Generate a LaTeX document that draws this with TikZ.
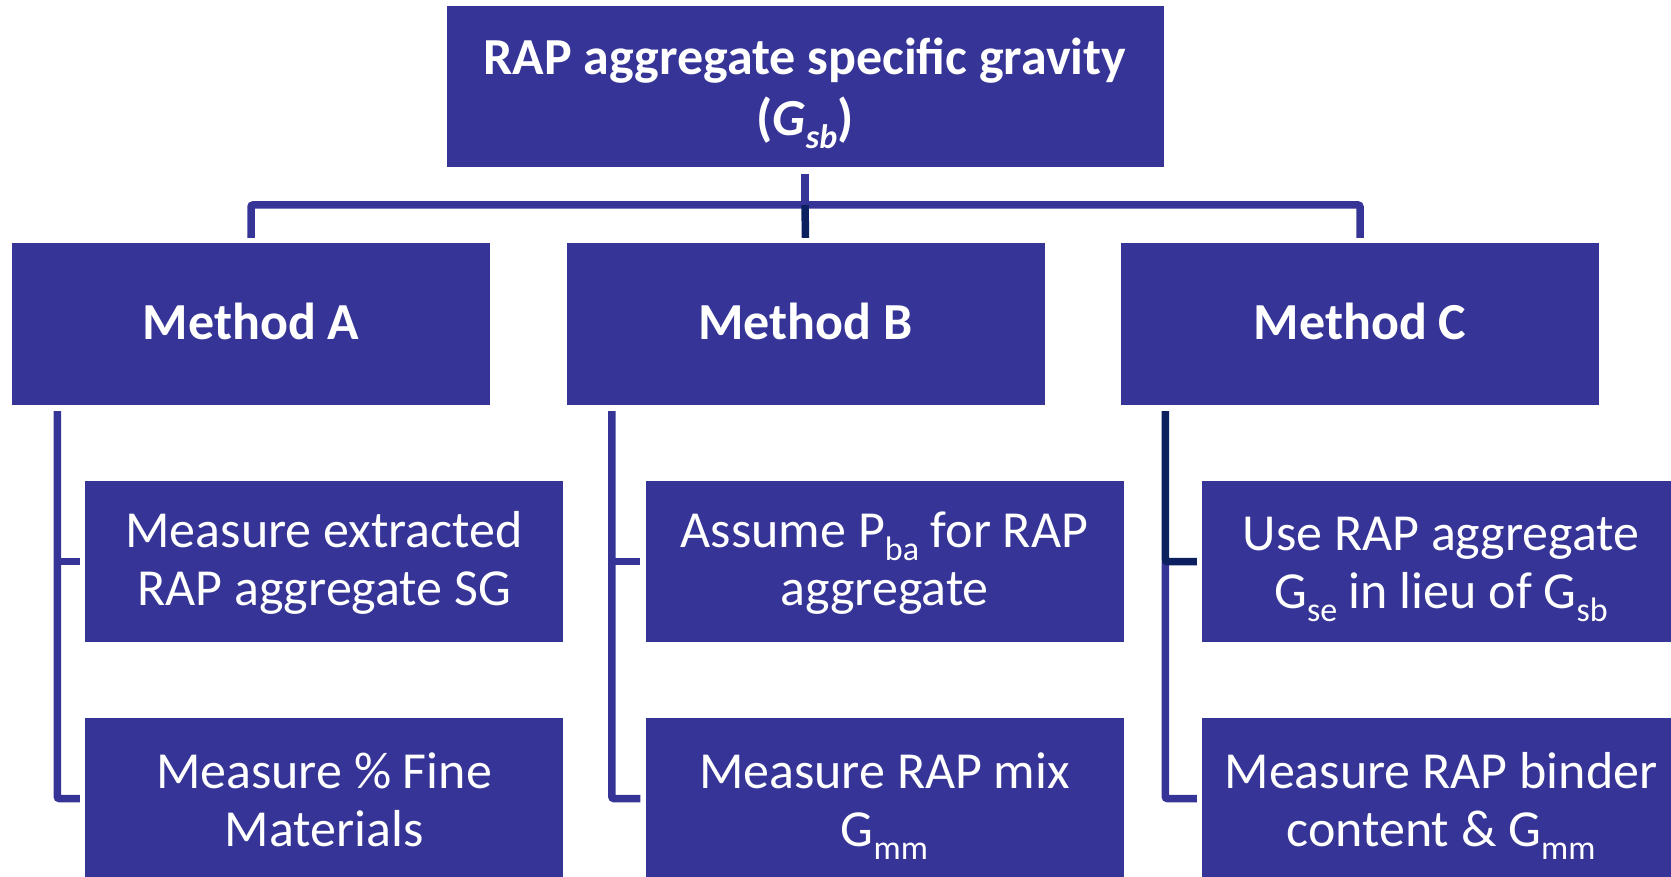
\documentclass[tikz,border=0pt]{standalone}
\usepackage{fontspec}
\setmainfont{Carlito}
\usepackage{tikz}
\usetikzlibrary{calc}
\definecolor{boxblue}{RGB}{54,53,151}
\definecolor{linenavy}{RGB}{12,32,96}
% subscript as in the slide: smaller and well below the baseline
\newcommand{\lowsub}[1]{\raisebox{-0.25em}[0pt][0pt]{\fontsize{34}{34}\selectfont #1}}
\newcommand{\dropdown}[2][1.5pt]{\raisebox{-#1}[\height][\depth]{#2}}

\tikzset{
  box/.style={rectangle, fill=boxblue, text=white, inner sep=0pt, align=center,
    minimum width=478pt, minimum height=161pt, font=\fontsize{52}{58}\selectfont},
  headbox/.style={box, font=\fontsize{52}{61}\selectfont\bfseries},
  wire/.style={line width=7.5pt, draw=boxblue, rounded corners=2pt}
}

\begin{document}
\begin{tikzpicture}[x=1pt, y=1pt]
\clip (0,0) rectangle (1671,-877);
% top and methods
\node[headbox, minimum width=717pt] (gsb) at (805,-87) {\dropdown[4pt]{RAP aggregate specific gravity}\\\dropdown[4pt]{({\itshape G\lowsub{sb}})}};
\node[headbox, minimum height=162pt] (mA) at (251,-324) {\dropdown[-3pt]{Method A}};
\node[headbox, minimum height=162pt] (mB) at (805.5,-324) {\dropdown[-3pt]{Method B}};
\node[headbox, minimum height=162pt] (mC) at (1360,-324) {\dropdown[-3pt]{Method C}};
% steps
\node[box] (a1) at (324,-561.5) {\dropdown{Measure extracted}\\\dropdown{RAP aggregate SG}};
\node[box] (a2) at (324,-798.5) {\dropdown{Measure \% Fine}\\\dropdown{Materials}};
\node[box] (b1) at (884.5,-561.5) {\dropdown{Assume P\lowsub{ba} for RAP}\\\dropdown{aggregate}};
\node[box] (b2) at (884.5,-798.5) {\dropdown{Measure RAP mix}\\\dropdown{G\lowsub{mm}}};
\node[box] (c1) at (1441,-561.5) {\dropdown{Use RAP aggregate}\\\dropdown{G\lowsub{se} in lieu of G\lowsub{sb}}};
\node[box] (c2) at (1441,-798.5) {\dropdown{Measure RAP binder}\\\dropdown{content \& G\lowsub{mm}}};
% tree lines
\coordinate (bar) at (805,-205);
\draw[wire] ([yshift=-6pt]gsb.south) -- (bar);
\draw[wire] ([yshift=5pt]mA.north) |- (bar) -| ([yshift=5pt]mC.north);
\draw[wire, draw=linenavy] (bar) -- ([yshift=5pt]mB.north);
\coordinate (vA) at ([xshift=45.5pt, yshift=-6pt]mA.south west);
\coordinate (vB) at ([xshift=45.5pt, yshift=-6pt]mB.south west);
\coordinate (vC) at ([xshift=44.5pt, yshift=-6pt]mC.south west);
\draw[wire] (vA) |- ([xshift=-5pt]a2.west);
\draw[wire] (vA |- a1.west) -- ([xshift=-5pt]a1.west);
\draw[wire] (vB) |- ([xshift=-5pt]b2.west);
\draw[wire] (vB |- b1.west) -- ([xshift=-5pt]b1.west);
\draw[wire] (vC |- c1.west) |- ([xshift=-5pt]c2.west);
\draw[wire, draw=linenavy] (vC) |- ([xshift=-5pt]c1.west);
\end{tikzpicture}
\end{document}
